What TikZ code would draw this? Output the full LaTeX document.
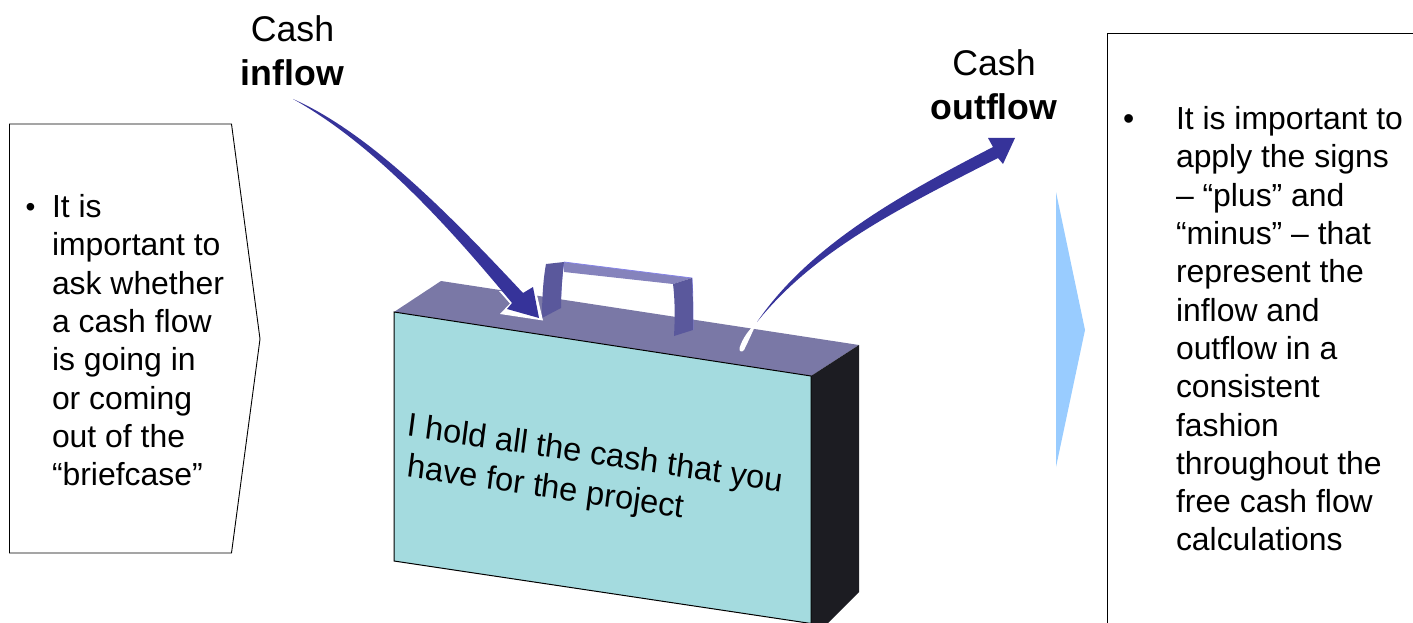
\documentclass[tikz,border=0pt]{standalone}
\usepackage{fontspec}
\setmainfont{Liberation Sans}
\tikzset{
  body/.style={inner sep=0pt,outer sep=0pt,anchor=north west,align=left,font=\fontsize{31.9}{38.3}\selectfont},
  head/.style={inner sep=0pt,outer sep=0pt,align=center,font=\fontsize{35.7}{44}\selectfont},
  panel/.style={draw=black,line width=0.9pt,fill=white},
}
\definecolor{navy}{HTML}{36339A}
\definecolor{topc}{HTML}{7A78A6}
\definecolor{frontc}{HTML}{A4DBDF}
\definecolor{sidec}{HTML}{1C1C22}
\definecolor{hside}{HTML}{5A589C}
\definecolor{hband}{HTML}{8583BC}
\definecolor{hedge}{HTML}{8583E8}
\definecolor{tri}{HTML}{99CCFF}
\begin{document}
\begin{tikzpicture}[x=1pt,y=-1pt]
\useasboundingbox (0,0) rectangle (1413,623);
\clip (0,0) rectangle (1413,623);
% left panel
\draw[panel] (9.5,124) -- (231.5,124) -- (260,339) -- (231.5,553) -- (9.5,553) -- cycle;
\node[body,font=\fontsize{28}{28}\selectfont] (leftbullet) at (25.5,203.5) {•};
\node[body] (lefttext) at (52,194.5) {It is\\important to\\ask whether\\a cash flow\\is going in\\or coming\\out of the\\“briefcase”};
% right panel
\draw[panel] (1440,33) -- (1107,33) -- (1107,660);
\node[body] (rightbullet) at (1123,115) {•};
\node[body] (righttext) at (1176,106.5) {It is important to\\apply the signs\\– “plus” and\\“minus” – that\\represent the\\inflow and\\outflow in a\\consistent\\fashion\\throughout the\\free cash flow\\calculations};
% triangle
\fill[tri] (1056,192) -- (1085,330) -- (1056,467) -- cycle;
% briefcase
\fill[topc] (394,312) -- (441,281) -- (859,345) -- (811,376) -- cycle;
\fill[sidec] (811,376) -- (859,345) -- (859,592) -- (811,640) -- cycle;
\draw[fill=frontc,line width=1pt] (394,312) -- (811,376) -- (811,623.5) -- (394,561) -- cycle;
% handle
\fill[hband] (564,262) -- (692,278) -- (673,284) -- (564,272) -- cycle;
\draw[hedge,line width=0.8pt] (564,262) -- (692,278) .. controls (693,295) and (693,312) .. (693,330);
\draw[hedge,line width=0.8pt] (564,262) .. controls (561,280) and (561,295) .. (560,308);
\fill[hside] (546,264) -- (564,262) .. controls (562,278) and (561,295) .. (561,308) -- (542,318) .. controls (542,300) and (543,280) .. (546,264) -- cycle;
\fill[hside] (673,284) -- (692,278) .. controls (693,295) and (693,312) .. (693,330) -- (674,336) .. controls (675,318) and (675,300) .. (673,284) -- cycle;
% inflow arrow
\fill[white] (499,291) -- (510,303.5) -- (500,314) -- (543,320.5) -- (537,295) -- cycle;
\path[fill=navy,draw=none] (293,99) .. controls (370,133) and (450,215) .. (523,293)
  -- (533,287) -- (539,318) -- (507,309) -- (512,303)
  .. controls (445,222) and (372,143) .. (293,99) -- cycle;
% outflow arrow
\fill[navy] (757,322) .. controls (810,245) and (900,195) .. (993,147) -- (988,138) -- (1015,138) -- (1003,164) -- (998,158)
  .. controls (900,208) and (815,250) .. (757,322) -- cycle;
\fill[white] (757,322) .. controls (752,333) and (748,342) .. (744,350) .. controls (742,353) and (738.5,351) .. (739.5,348) .. controls (743,337) and (749,330) .. (757,322) -- cycle;
% labels
\node[head] (inflow) at (292.5,51) {Cash\\\textbf{inflow}};
\node[head] (outflow) at (994,85) {Cash\\\textbf{outflow}};
\node[inner sep=0pt,align=left,anchor=west,font=\fontsize{32.6}{40}\selectfont,
  transform shape,cm={0.99,-0.148,0.13,1,(0,0)}] (caption) at (405,447.5)
  {I hold all the cash that you\\\hspace{5pt}have for the project};
\end{tikzpicture}
\end{document}
